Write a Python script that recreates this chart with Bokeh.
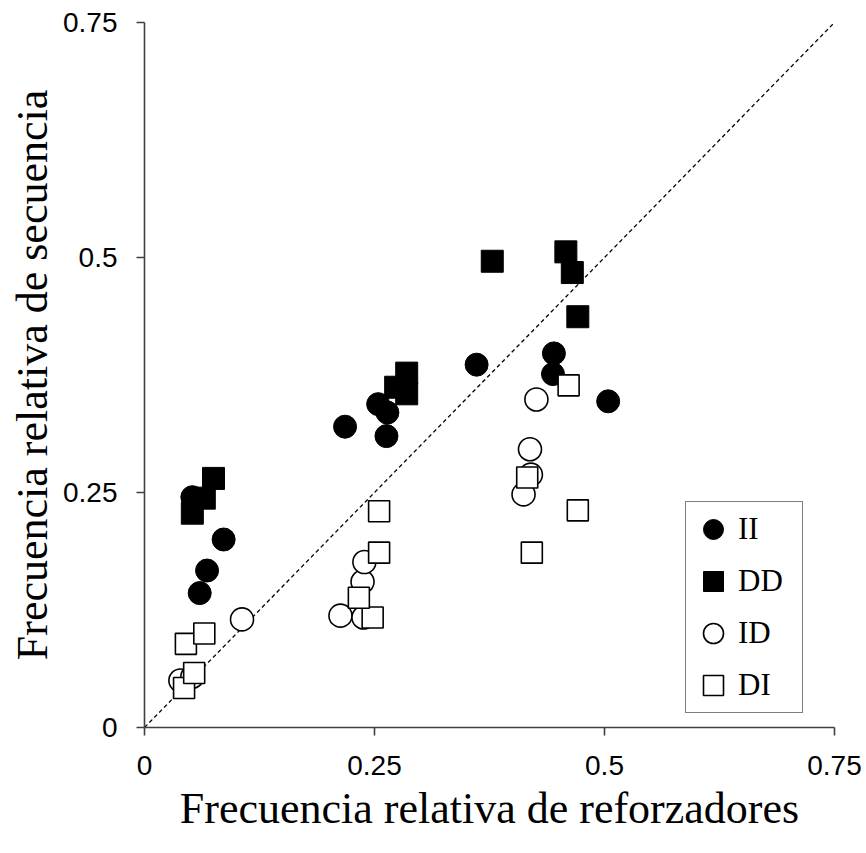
from bokeh.plotting import figure
from bokeh.models import Range1d, FixedTicker, Legend, LegendItem
from bokeh.embed import file_html
from bokeh.resources import INLINE

# ---- data ----
II_x = [0.052, 0.086, 0.068, 0.060, 0.218, 0.254, 0.264, 0.263, 0.361, 0.445, 0.444, 0.504]
II_y = [0.245, 0.200, 0.167, 0.143, 0.320, 0.344, 0.335, 0.310, 0.386, 0.398, 0.376, 0.347]

DD_x = [0.052, 0.065, 0.075, 0.273, 0.285, 0.285, 0.378, 0.458, 0.465, 0.471]
DD_y = [0.228, 0.244, 0.265, 0.362, 0.377, 0.355, 0.496, 0.506, 0.484, 0.437]

ID_x = [0.039, 0.052, 0.106, 0.213, 0.238, 0.237, 0.239, 0.412, 0.420, 0.419, 0.426]
ID_y = [0.050, 0.054, 0.115, 0.119, 0.117, 0.155, 0.176, 0.248, 0.269, 0.296, 0.349]

DI_x = [0.043, 0.054, 0.045, 0.065, 0.248, 0.233, 0.255, 0.255, 0.421, 0.416, 0.471, 0.461]
DI_y = [0.042, 0.058, 0.089, 0.100, 0.117, 0.138, 0.186, 0.230, 0.186, 0.266, 0.231, 0.364]

diag = [0.0, 0.75]
ticks = [0, 0.25, 0.5, 0.75]
tick_labels = ["0", "0.25", "0.5", "0.75"]
series_names = ["II", "DD", "ID", "DI"]

x_title = "Frecuencia relativa de reforzadores"
y_title = "Frecuencia relativa de secuencia"

# ---- figure ----
p = figure(width=866, height=853, output_backend="svg", toolbar_location=None,
           x_range=Range1d(0, 0.75), y_range=Range1d(0, 0.75),
           min_border_left=144, min_border_right=32,
           min_border_top=22, min_border_bottom=126)
p.outline_line_color = None
p.xgrid.visible = False
p.ygrid.visible = False
p.background_fill_color = "white"
p.border_fill_color = "white"

for ax in (p.xaxis[0], p.yaxis[0]):
    ax.ticker = FixedTicker(ticks=ticks)
    ax.major_label_overrides = {t: l for t, l in zip(ticks, tick_labels)}
    ax.minor_tick_line_color = None
    ax.axis_line_color = "#404040"
    ax.axis_line_width = 1.6
    ax.major_tick_line_color = "#404040"
    ax.major_tick_line_width = 1.6
    ax.major_tick_in = 0
    ax.major_tick_out = 8
    ax.major_label_text_font = "Liberation Sans"
    ax.major_label_text_font_size = "28px"
    ax.major_label_text_color = "black"
    ax.axis_label_text_font = "Liberation Serif"
    ax.axis_label_text_font_size = "44px"
    ax.axis_label_text_font_style = "normal"
    ax.axis_label_text_color = "black"

p.xaxis[0].axis_label = x_title
p.yaxis[0].axis_label = y_title
p.xaxis[0].major_label_standoff = 20
p.xaxis[0].axis_label_standoff = 6
p.yaxis[0].major_label_standoff = 19
p.yaxis[0].axis_label_standoff = 3
p.yaxis[0].major_label_orientation = "horizontal"

# identity line
p.line(diag, diag, line_color="black", line_width=1.3, line_dash="4 3")

r_ii = p.scatter(II_x, II_y, marker="circle", size=23, fill_color="black",
                 line_color="black", line_width=1)
r_dd = p.scatter(DD_x, DD_y, marker="square", size=22, fill_color="black",
                 line_color="black", line_width=1)
r_id = p.scatter(ID_x, ID_y, marker="circle", size=23, fill_color="white",
                 line_color="black", line_width=1.6)
r_di = p.scatter(DI_x, DI_y, marker="square", size=21, fill_color="white",
                 line_color="black", line_width=1.6)

legend = Legend(items=[LegendItem(label=n, renderers=[r]) for n, r in
                       zip(series_names, [r_ii, r_dd, r_id, r_di])],
                location=(541, 14), orientation="vertical",
                glyph_width=50, glyph_height=50, label_height=50,
                label_width=62, label_standoff=0, spacing=2, padding=2,
                margin=0,
                label_text_font="Liberation Serif", label_text_font_size="31px",
                label_text_color="black",
                border_line_color="black", border_line_width=1.5,
                background_fill_color="white", background_fill_alpha=1.0)
p.add_layout(legend, "center")

open("out.html", "w").write(file_html(p, INLINE))
